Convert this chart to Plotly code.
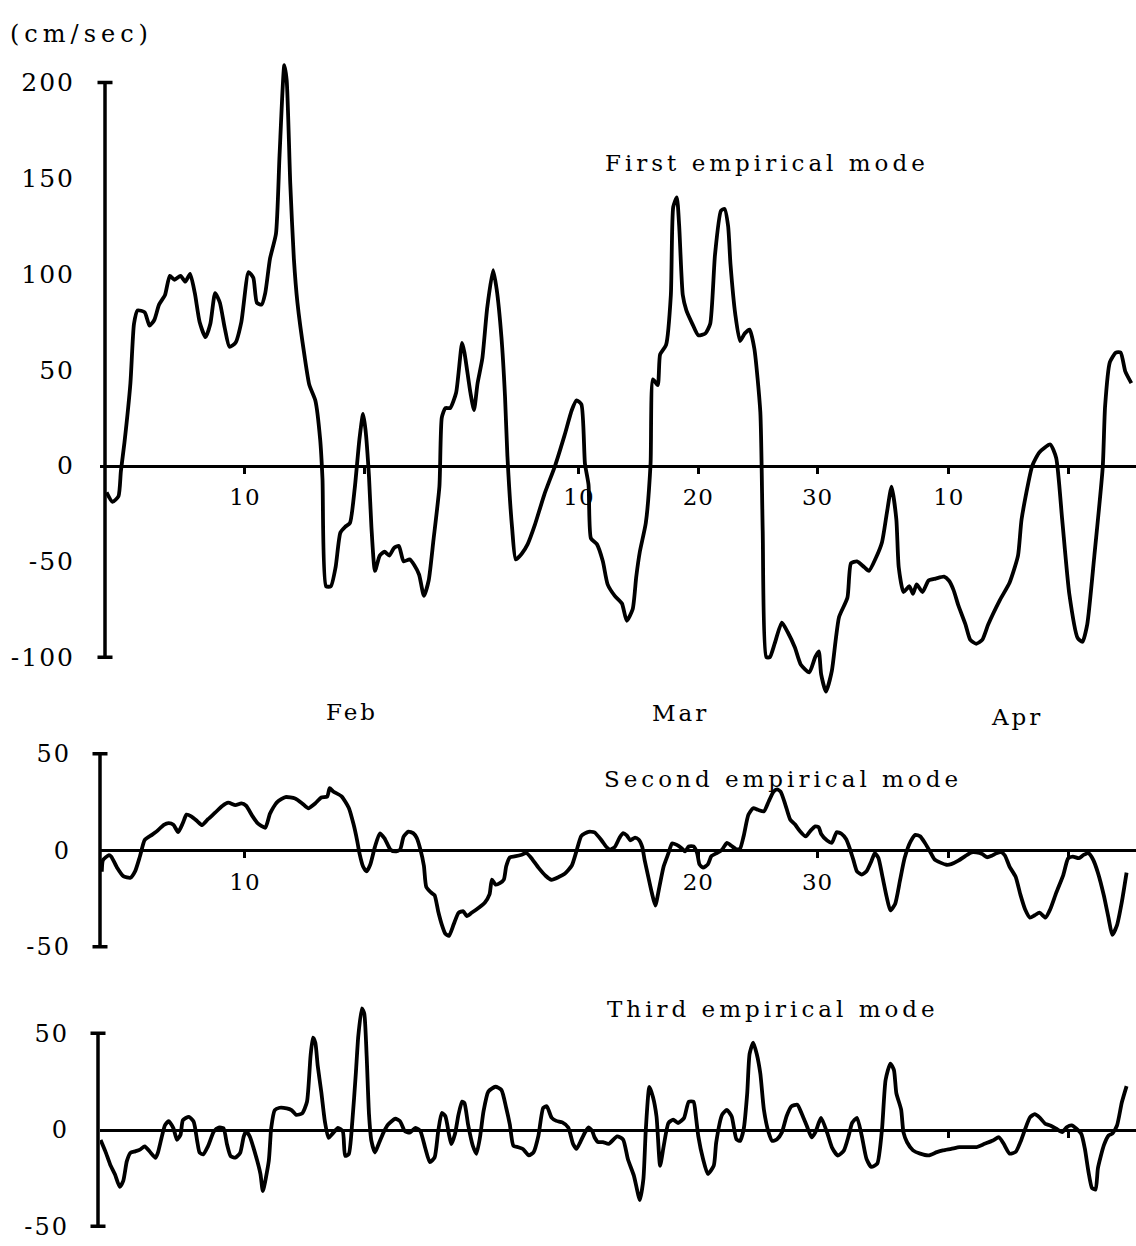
import plotly.graph_objects as go

# ---------------------------------------------------------------------------
# Empirical-mode velocity time series (cm/sec) against day of year (1 = Jan 1)
# ---------------------------------------------------------------------------
mode1_day = [29.4, 29.9, 30.4, 30.6, 30.9, 31.4, 31.7, 32.0, 32.6, 33.0, 33.4, 33.8, 34.3, 34.7,
             35.1, 35.6, 36.0, 36.4, 36.8, 37.2, 37.7, 38.1, 38.5, 38.9, 39.3, 39.7, 40.2, 40.7,
             41.3, 41.7, 42.0, 42.4, 42.7, 43.1, 43.6, 43.9, 44.3, 44.5, 44.8, 45.1, 45.4, 46.0,
             46.4, 46.9, 47.3, 47.5, 47.8, 48.2, 48.6, 49.0, 49.4, 49.8, 50.2, 50.6, 50.9, 51.1,
             51.4, 51.6, 51.9, 52.3, 52.7, 53.1, 53.5, 53.9, 54.3, 54.8, 55.2, 55.6, 56.0, 56.4,
             56.8, 57.3, 57.5, 57.8, 58.2, 58.7, 59.2, 59.4, 59.9, 60.2, 60.5, 60.9, 61.3, 61.8,
             62.1, 62.5, 62.8, 63.0, 63.4, 63.7, 64.2, 64.7, 65.3, 66.1, 67.0, 67.8, 68.4, 68.8,
             69.2, 69.5, 69.8, 70.0, 70.5, 71.0, 71.4, 72.0, 72.6, 73.0, 73.5, 73.8, 74.1, 74.6,
             75.0, 75.2, 75.6, 75.8, 76.3, 76.7, 76.9, 77.2, 77.4, 77.7, 78.0, 78.5, 79.0, 79.6,
             80.0, 80.4, 80.9, 81.2, 81.5, 81.7, 82.1, 82.5, 82.9, 83.3, 83.7, 84.2, 84.4, 84.7,
             85.0, 85.4, 86.0, 86.5, 87.1, 87.6, 88.3, 88.8, 89.1, 89.3, 89.7, 90.2, 90.5, 90.8,
             91.5, 91.8, 92.3, 92.9, 93.3, 93.9, 94.4, 94.8, 95.2, 95.6, 95.8, 96.2, 96.7, 97.0,
             97.3, 97.8, 98.3, 98.9, 99.6, 100.0, 100.4, 100.8, 101.4, 101.8, 102.3, 102.8, 103.3,
             104.3, 105.1, 105.8, 106.1, 107.0, 107.6, 108.5, 109.0, 109.5, 110.1, 110.8, 111.2,
             111.6, 112.2, 112.9, 113.1, 113.5, 114.0, 114.4, 114.8, 115.3]
mode1_val = [-14, -19, -16, -3, 12, 43, 74, 81, 80, 73, 76, 84, 89, 99,
             97, 99, 96, 100, 90, 75, 67, 74, 90, 85, 72, 62, 64, 75,
             101, 98, 85, 84, 90, 108, 121, 162, 209, 201, 147, 108, 85, 57,
             42, 34, 14, -7, -63, -63, -53, -35, -32, -30, -12, 14, 27, 19,
             -6, -32, -55, -47, -45, -47, -43, -42, -50, -49, -52, -57, -68, -60,
             -39, -11, 25, 30, 30, 38, 64, 59, 38, 29, 43, 56, 82, 102,
             92, 67, 36, 5, -33, -49, -46, -41, -31, -15, 0, 16, 29, 34,
             32, 1, -10, -38, -41, -50, -62, -68, -72, -81, -75, -58, -45, -30,
             1, 45, 42, 58, 63, 89, 135, 140, 125, 89, 81, 74, 68, 69,
             74, 110, 133, 134, 125, 105, 79, 65, 69, 71, 61, 28, -34, -100,
             -100, -93, -82, -87, -95, -104, -108, -100, -97, -109, -118, -107, -92, -79,
             -69, -51, -50, -53, -55, -48, -40, -25, -11, -28, -53, -66, -63, -67,
             -62, -66, -60, -59, -58, -60, -65, -73, -83, -91, -93, -91, -83,
             -70, -61, -47, -28, 0, 7, 11, 4, -28, -67, -90, -92,
             -83, -47, -1, 31, 54, 59, 59, 49, 43]

mode2_day = [29.0, 29.1, 29.6, 29.8, 30.3, 30.8, 31.4, 31.8, 32.2, 32.6, 33.2, 33.6, 34.2, 34.6,
             35.0, 35.4, 35.8, 36.1, 36.5, 37.0, 37.4, 37.9, 38.5, 39.1, 39.6, 40.2, 40.7, 41.1,
             41.6, 42.1, 42.7, 43.1, 43.7, 44.4, 45.2, 45.8, 46.3, 46.9, 47.4, 47.9, 48.1, 48.4,
             49.1, 49.7, 50.1, 50.4, 50.6, 50.9, 51.2, 51.5, 51.9, 52.3, 52.7, 53.2, 53.6, 54.0,
             54.3, 54.7, 55.1, 55.4, 55.7, 56.0, 56.2, 56.7, 56.9, 57.2, 57.5, 57.8, 58.1, 58.5,
             58.9, 59.3, 59.6, 60.0, 60.6, 61.1, 61.5, 61.7, 62.0, 62.4, 62.7, 62.9, 63.2, 63.6,
             64.2, 64.6, 65.0, 65.6, 66.2, 66.7, 67.3, 67.8, 68.4, 68.8, 69.2, 69.8, 70.3, 70.9,
             71.3, 71.6, 72.0, 72.4, 72.7, 73.0, 73.3, 73.7, 74.0, 74.3, 74.5, 74.8, 75.1, 75.4,
             75.7, 76.1, 76.5, 76.8, 77.2, 77.6, 77.9, 78.2, 78.6, 78.9, 79.1, 79.4, 79.8, 80.1,
             80.5, 81.0, 81.4, 81.8, 82.2, 82.5, 82.8, 83.2, 83.6, 84.0, 84.5, 84.9, 85.3, 85.6,
             85.9, 86.3, 86.7, 87.1, 87.5, 88.0, 88.4, 88.8, 89.1, 89.3, 89.8, 90.2, 90.6, 91.0,
             91.4, 91.7, 92.0, 92.3, 92.7, 93.1, 93.5, 93.8, 94.1, 94.4, 94.8, 95.1, 95.5, 95.9,
             96.3, 96.8, 97.2, 97.6, 98.0, 98.4, 98.8, 99.3, 99.8, 100.2, 100.8, 101.4, 101.9,
             102.3, 102.8, 103.2, 103.6, 104.0, 104.4, 104.7, 105.1, 105.6, 106.0, 106.4, 106.8,
             107.2, 107.6, 108.1, 108.5, 109.0, 109.6, 110.0, 110.4, 110.9, 111.3, 111.7, 112.1,
             112.5, 113.0, 113.4, 113.7, 114.1, 114.5, 114.9]
mode2_val = [-11.1, -5.1, -2.5, -3.3, -9.2, -13.4, -14.2, -10.8, -3.1, 5.4, 8.0, 9.8, 13.2, 14.1,
             13.3, 9.4, 14.2, 18.5, 17.6, 15.1, 13.0, 16.1, 19.5, 23.0, 24.7, 23.4, 24.3, 23.1,
             18.0, 13.8, 11.7, 19.0, 25.0, 27.6, 26.8, 24.3, 21.8, 24.4, 27.4, 27.9, 32.2, 30.5,
             28.0, 22.1, 13.6, 5.2, -1.6, -8.4, -10.9, -7.5, 1.9, 8.7, 6.2, 0.3, -0.6, 0.3,
             7.1, 9.7, 8.9, 6.4, 0.5, -8.0, -19.0, -22.4, -23.3, -31.7, -38.5, -43.3, -44.4, -38.4,
             -32.4, -31.6, -34.1, -32.4, -29.8, -27.2, -22.9, -15.2, -17.8, -16.9, -15.2, -8.3, -3.7, -3.2,
             -2.3, -1.4, -4.0, -9.0, -13.2, -15.3, -13.9, -12.2, -7.9, -0.2, 7.5, 9.6, 9.3, 5.1,
             1.7, 0.3, 1.7, 6.5, 8.9, 7.7, 5.2, 6.6, 5.6, 1.8, -5.0, -13.5, -21.9, -28.7,
             -20.2, -8.3, -1.5, 3.6, 2.8, 1.1, -0.6, 2.0, 2.0, -1.4, -7.3, -9.0, -7.3, -3.0,
             -1.6, 0.4, 3.9, 2.2, 0.5, 0.9, 7.3, 18.4, 21.8, 21.0, 20.2, 25.3, 30.4, 31.6,
             30.4, 23.6, 16.0, 13.5, 10.1, 7.2, 10.1, 12.4, 11.9, 8.5, 5.1, 3.9, 9.4, 8.6,
             5.7, 0.9, -5.0, -10.9, -12.6, -10.9, -5.8, -1.5, -4.0, -12.5, -24.4, -31.2, -27.8, -15.9,
             -3.9, 4.6, 8.0, 7.2, 3.8, -0.4, -4.7, -6.4, -7.5, -7.2, -5.4, -2.9, -1.1,
             -1.1, -1.9, -3.6, -2.8, -1.5, -1.0, -2.7, -8.6, -13.7, -23.0, -30.7, -34.9,
             -33.7, -32.3, -34.9, -30.6, -22.1, -12.7, -4.2, -3.3, -4.1, -2.4, -1.5, -4.9,
             -11.7, -23.6, -35.5, -43.9, -38.8, -26.9, -11.6]

mode3_day = [28.9, 29.3, 29.7, 30.1, 30.5, 30.8, 31.1, 31.4, 31.8, 32.2, 32.6, 33.0, 33.5, 33.7,
             34.0, 34.3, 34.6, 35.0, 35.3, 35.6, 35.8, 36.3, 36.7, 37.0, 37.2, 37.5, 37.9, 38.4,
             38.8, 39.2, 39.5, 39.8, 40.2, 40.6, 40.9, 41.1, 41.4, 41.8, 42.3, 42.5, 43.0, 43.2,
             43.5, 43.9, 44.5, 44.9, 45.3, 45.8, 46.2, 46.5, 46.7, 46.9, 47.1, 47.4, 47.7, 48.0,
             48.4, 48.8, 49.2, 49.4, 49.7, 50.0, 50.3, 50.5, 50.8, 51.0, 51.2, 51.4, 51.6, 51.9,
             52.2, 52.6, 53.0, 53.6, 54.0, 54.4, 54.8, 55.3, 55.7, 56.1, 56.5, 56.9, 57.2, 57.5,
             57.8, 58.1, 58.3, 58.6, 58.9, 59.2, 59.4, 59.7, 60.1, 60.4, 60.7, 61.0, 61.4, 62.0,
             62.5, 62.9, 63.2, 63.5, 63.9, 64.3, 64.8, 65.2, 65.6, 66.0, 66.3, 66.7, 67.1, 67.6,
             68.1, 68.5, 68.8, 69.1, 69.5, 69.8, 70.1, 70.3, 70.6, 71.0, 71.5, 72.2, 72.7, 73.1,
             73.6, 74.1, 74.4, 74.6, 74.9, 75.2, 75.5, 75.8, 76.1, 76.5, 76.9, 77.3, 77.8, 78.2,
             78.6, 78.8, 79.0, 79.4, 79.8, 80.3, 80.5, 81.0, 81.4, 81.8, 82.2, 82.5, 82.8, 83.1,
             83.3, 83.6, 83.9, 84.2, 84.5, 84.9, 85.2, 85.6, 86.0, 86.4, 86.8, 87.3, 87.7, 88.1,
             88.5, 88.8, 89.1, 89.3, 89.8, 90.2, 90.7, 91.2, 91.6, 91.9, 92.3, 92.7, 93.1, 93.5,
             94.0, 94.4, 94.7, 95.1, 95.4, 95.6, 96.0, 96.2, 96.5, 97.0, 97.6, 98.3, 99.0, 99.5,
             100.2, 100.9, 101.6, 102.3, 103.0, 103.7, 104.2, 104.6, 105.1, 105.6, 106.0, 106.4,
             106.8, 107.2, 107.6, 108.1, 108.5, 109.0, 109.5, 109.9, 110.3, 110.7, 111.1, 111.4,
             111.7, 112.0, 112.3, 112.5, 113.0, 113.4, 113.7, 114.1, 114.5, 114.9]
mode3_val = [-5.3, -11.2, -18.0, -23.1, -29.6, -26.5, -16.3, -12.0, -11.2, -10.3, -8.6, -11.2, -14.6, -12.0,
             -4.4, 2.4, 4.5, 0.8, -5.2, -2.6, 5.0, 6.7, 4.2, -6.0, -11.9, -12.8, -8.6, -0.9,
             1.1, 0.8, -7.7, -13.7, -14.5, -12.0, -3.4, -0.9, -3.4, -11.1, -23.0, -31.8, -16.1, 0.9,
             10.2, 11.4, 11.1, 10.2, 7.7, 8.5, 14.5, 38.3, 47.7, 45.1, 33.2, 19.6, 4.3, -4.2,
             -1.6, 0.9, -0.8, -13.5, -12.7, 4.3, 29.8, 48.5, 62.9, 60.3, 38.4, 7.8, -5.8, -11.8,
             -7.5, -1.6, 2.7, 5.7, 4.4, -0.7, -1.5, 1.0, -0.7, -9.2, -16.8, -14.3, -0.7, 8.7,
             7.0, -2.4, -7.5, -2.4, 7.8, 14.6, 13.8, 2.8, -8.3, -12.5, -4.0, 9.6, 19.8, 22.3,
             20.6, 11.3, 2.8, -8.3, -9.1, -10.0, -13.3, -11.6, -3.1, 11.3, 12.2, 6.3, 4.6, 3.8,
             1.2, -7.3, -9.9, -6.5, -1.4, 1.2, -0.5, -3.9, -6.4, -6.4, -7.3, -3.4, -5.1, -15.3,
             -23.8, -36.5, -25.5, 0.0, 22.2, 17.0, 6.8, -18.7, -8.5, 3.5, 5.2, 3.5, 6.0, 14.5,
             14.5, 6.9, -3.3, -15.2, -22.9, -18.6, -6.7, 7.8, 10.3, 6.9, -5.0, -5.8, 0.1, 18.8,
             39.3, 45.2, 39.3, 29.1, 10.4, -1.5, -5.8, -4.9, -1.5, 7.0, 12.1, 13.0, 7.9, 1.9,
             -4.0, -1.5, 3.6, 6.2, -1.5, -9.1, -13.4, -10.8, -3.2, 3.6, 6.2, -3.1, -15.1, -19.3,
             -17.6, 0.3, 25.8, 34.3, 30.9, 19.0, 10.5, -1.4, -6.5, -10.7, -12.4, -13.3, -11.6, -10.7,
             -9.9, -9.0, -9.0, -9.0, -7.3, -5.6, -3.9, -7.3, -12.4, -11.5, -6.4, 0.4,
             6.4, 8.1, 6.4, 3.0, 2.2, 0.5, -1.2, 1.4, 2.2, 0.5, -2.1, -9.7,
             -21.6, -30.2, -31.0, -19.9, -8.0, -2.9, -2.0, 2.2, 14.1, 22.6]

# Calendar ticks (day of year) drawn on each zero line, with their labels
top_tick_day = [41, 51, 69, 79, 89, 100, 110]
top_tick_text = ["10", "", "10", "20", "30", "10", ""]
mid_tick_day = [41, 79, 89, 100, 110]
mid_tick_text = ["10", "20", "30", "", ""]
low_tick_day = [100, 110]
low_tick_text = ["", ""]

# Velocity tick labels for each panel
top_yticks = [-100, -50, 0, 50, 100, 150, 200]
mid_yticks = [-50, 0, 50]
low_yticks = [-50, 0, 50]

months = ["Feb", "Mar", "Apr"]
titles = ["First empirical mode", "Second empirical mode", "Third empirical mode"]

# ---------------------------------------------------------------------------
# Page geometry (pixels) and helpers
# ---------------------------------------------------------------------------
W, H = 1136, 1246
FONT = "DejaVu Serif"
INK = "black"


def fx(px):
    return px / W


def fy(py):
    return 1 - py / H


def spaced(text, gap):
    return f'<span style="letter-spacing:{gap}px">{text}</span>'


PLOT_LEFT_PX = 100
DAY_RANGE = [28.85, 115.69]

panels = [
    dict(zero_px=463, ppu=1.947, yrange=(-130, 215), axis_px=105,
         yticks=top_yticks, ysize=25, standoff=24,
         xticks=top_tick_day, xtext=top_tick_text,
         day=mode1_day, val=mode1_val),
    dict(zero_px=854, ppu=1.96, yrange=(-52, 52), axis_px=100,
         yticks=mid_yticks, ysize=24, standoff=28,
         xticks=mid_tick_day, xtext=mid_tick_text,
         day=mode2_day, val=mode2_val),
    dict(zero_px=1138, ppu=1.96, yrange=(-54, 67), axis_px=98,
         yticks=low_yticks, ysize=24, standoff=30,
         xticks=low_tick_day, xtext=low_tick_text,
         day=mode3_day, val=mode3_val),
]

fig = go.Figure()
layout = dict(
    width=W, height=H, autosize=False,
    margin=dict(l=0, r=0, t=0, b=0),
    paper_bgcolor="white", plot_bgcolor="white",
    showlegend=False,
    font=dict(family=FONT, color=INK),
)
shapes = []
annotations = []

for i, p in enumerate(panels, start=1):
    sfx = "" if i == 1 else str(i)
    xa, ya = "x" + sfx, "y" + sfx

    fig.add_trace(go.Scatter(
        x=p["day"], y=p["val"], xaxis=xa, yaxis=ya, mode="lines",
        line=dict(color=INK, width=3.8, shape="spline", smoothing=0.55),
        hoverinfo="skip",
    ))

    y_lo, y_hi = p["yrange"]
    dom = [fy(p["zero_px"] - p["ppu"] * y_lo), fy(p["zero_px"] - p["ppu"] * y_hi)]

    # x axis sits on the zero line, ticks hang below it
    layout["xaxis" + sfx] = dict(
        domain=[fx(PLOT_LEFT_PX), 1], range=DAY_RANGE,
        anchor="free", position=fy(p["zero_px"]),
        showline=True, linecolor=INK, linewidth=3,
        ticks="outside", ticklen=6, tickwidth=3, tickcolor=INK,
        tickvals=p["xticks"], ticktext=[spaced(t, 1) for t in p["xtext"]],
        tickfont=dict(family=FONT, size=23, color=INK),
        ticklabelstandoff=4,
        showgrid=False, zeroline=False, fixedrange=True,
    )
    layout["yaxis" + sfx] = dict(
        domain=dom, range=[y_lo, y_hi], anchor=xa,
        showline=False, showgrid=False, zeroline=False, ticks="",
        tickvals=p["yticks"], ticktext=[spaced(str(v), 2) for v in p["yticks"]],
        tickfont=dict(family=FONT, size=p["ysize"], color=INK),
        ticklabelstandoff=p["standoff"], fixedrange=True,
    )

    # vertical scale bar with end caps
    ax_x = fx(p["axis_px"])
    cap = 7.5 / W
    y_min_t, y_max_t = min(p["yticks"]), max(p["yticks"])
    shapes.append(dict(type="line", xref="paper", yref=ya, x0=ax_x, x1=ax_x,
                       y0=y_min_t, y1=y_max_t, line=dict(color=INK, width=3.5)))
    for yv in (y_min_t, y_max_t):
        shapes.append(dict(type="line", xref="paper", yref=ya, x0=ax_x - cap, x1=ax_x + cap,
                           y0=yv, y1=yv, line=dict(color=INK, width=3.5)))

# unit label
annotations.append(dict(text=spaced("(cm/sec)", 5), xref="paper", yref="paper",
                        x=fx(8), y=fy(24), xanchor="left", yanchor="middle",
                        showarrow=False, font=dict(family=FONT, size=24, color=INK)))

# panel titles
title_pos = [(767, 155), (783, 782), (773, 1015)]
for t, (px, py) in zip(titles, title_pos):
    annotations.append(dict(text=spaced(t, 4), xref="paper", yref="paper",
                            x=fx(px), y=fy(py), xanchor="center", yanchor="middle",
                            showarrow=False, font=dict(family=FONT, size=23, color=INK)))

# month names under the first panel
month_pos = [(352, 713), (680, 714), (1017, 719)]
for m, (px, py) in zip(months, month_pos):
    annotations.append(dict(text=spaced(m, 3), xref="paper", yref="paper",
                            x=fx(px), y=fy(py), xanchor="center", yanchor="middle",
                            showarrow=False, font=dict(family=FONT, size=23, color=INK)))

layout["shapes"] = shapes
layout["annotations"] = annotations
fig.update_layout(**layout)

fig.write_html("out.html", config={"displayModeBar": False, "staticPlot": True})
